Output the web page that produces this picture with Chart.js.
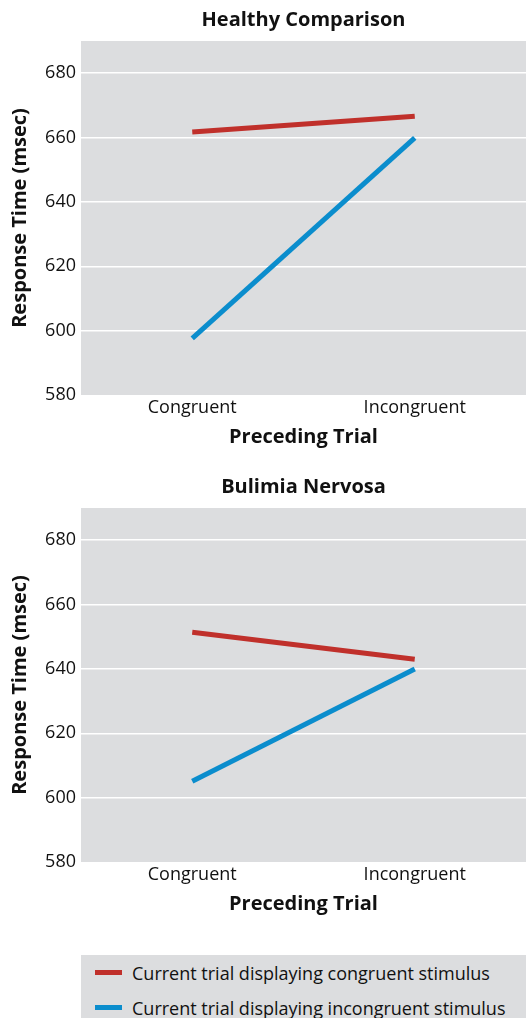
<!DOCTYPE html>
<html>
<head>
<meta charset="utf-8">
<script src="https://cdn.jsdelivr.net/npm/chart.js@4/dist/chart.umd.min.js"></script>
<style>
    body { margin: 0; background: #fff; font-family: "Open Sans", sans-serif; color: #111; }
    .wrap { width: 526px; }
    canvas { display: block; }
    #legend { margin: 21px 0 0 81px; width: 445px; height: 70px; background: #dcdddf; box-sizing: border-box; }
    .item { display: flex; align-items: center; height: 35px; font-size: 18px; white-space: nowrap; }
    .swatch { flex: none; width: 27px; height: 5px; margin: 0 10px 0 14px; }
</style>
</head>
<body>
<div class="wrap">
    <canvas id="healthy" width="526" height="467"></canvas>
    <canvas id="bulimia" width="526" height="467"></canvas>
    <div id="legend"></div>
</div>
<script>
const categories = ['Congruent', 'Incongruent'];
const seriesLabels = ['Current trial displaying congruent stimulus', 'Current trial displaying incongruent stimulus'];
const seriesColors = ['#c0302b', '#0b8dcd'];

const healthyCongruent = [661.7, 666.6];
const healthyIncongruent = [597.6, 659.9];
const bulimiaCongruent = [651.4, 643.0];
const bulimiaIncongruent = [605.1, 640.0];

const yMin = 580;
const yMax = 690;
const yStep = 20;

const FONT = '"Open Sans", sans-serif';
const PLOT_BG = '#dcdddf';

// gray plot background + title centred over the plot area
const panelPlugin = {
    id: 'panel',
    beforeDraw(chart) {
        const { ctx, chartArea } = chart;
        ctx.save();
        ctx.fillStyle = PLOT_BG;
        ctx.fillRect(chartArea.left, chartArea.top, chartArea.right - chartArea.left, chartArea.bottom - chartArea.top);
        ctx.restore();
    },
    afterDraw(chart, args, opts) {
        const { ctx, chartArea } = chart;
        ctx.save();
        ctx.font = 'bold 20px ' + FONT;
        ctx.fillStyle = '#111';
        ctx.textAlign = 'center';
        ctx.textBaseline = 'middle';
        ctx.fillText(opts.text, (chartArea.left + chartArea.right) / 2, 20);
        ctx.restore();
    }
};

function makeChart(id, title, congruent, incongruent) {
    const datasets = [congruent, incongruent].map((values, i) => ({
        label: seriesLabels[i],
        data: values,
        borderColor: seriesColors[i],
        backgroundColor: seriesColors[i],
        borderWidth: 5,
        borderCapStyle: 'butt',
        pointRadius: 0,
        tension: 0,
        fill: false
    }));

    new Chart(document.getElementById(id).getContext('2d'), {
        type: 'line',
        data: { labels: categories, datasets: datasets },
        plugins: [panelPlugin],
        options: {
            responsive: false,
            animation: false,
            layout: { padding: { top: 41, right: 0, left: 0, bottom: 0 } },
            plugins: {
                legend: { display: false },
                tooltip: { enabled: false },
                panel: { text: title }
            },
            scales: {
                x: {
                    offset: true,
                    grid: { display: false, drawTicks: false },
                    border: { display: false },
                    ticks: { color: '#111', font: { family: FONT, size: 18 }, padding: 2 },
                    title: { display: true, text: 'Preceding Trial', color: '#111', font: { family: FONT, size: 20, weight: 'bold' }, padding: { top: 0, bottom: 18 } },
                    afterFit(scale) { scale.height = 72; }
                },
                y: {
                    min: yMin,
                    max: yMax,
                    grid: {
                        drawTicks: false,
                        lineWidth: 1.5,
                        color: ctx => ctx.tick && ctx.tick.value === yMin ? 'rgba(0,0,0,0)' : '#ffffff'
                    },
                    border: { display: false },
                    ticks: { stepSize: yStep, includeBounds: false, color: '#111', font: { family: FONT, size: 18 }, padding: 5 },
                    title: { display: true, text: 'Response Time (msec)', color: '#111', font: { family: FONT, size: 20, weight: 'bold' }, padding: { top: 8, bottom: 0 } },
                    afterFit(scale) { scale.width = 81; }
                }
            }
        }
    });
}

makeChart('healthy', 'Healthy Comparison', healthyCongruent, healthyIncongruent);
makeChart('bulimia', 'Bulimia Nervosa', bulimiaCongruent, bulimiaIncongruent);

const legend = document.getElementById('legend');
seriesLabels.forEach((label, i) => {
    const row = document.createElement('div');
    row.className = 'item';
    const sw = document.createElement('span');
    sw.className = 'swatch';
    sw.style.background = seriesColors[i];
    const txt = document.createElement('span');
    txt.textContent = label;
    row.appendChild(sw);
    row.appendChild(txt);
    legend.appendChild(row);
});
</script>
</body>
</html>
